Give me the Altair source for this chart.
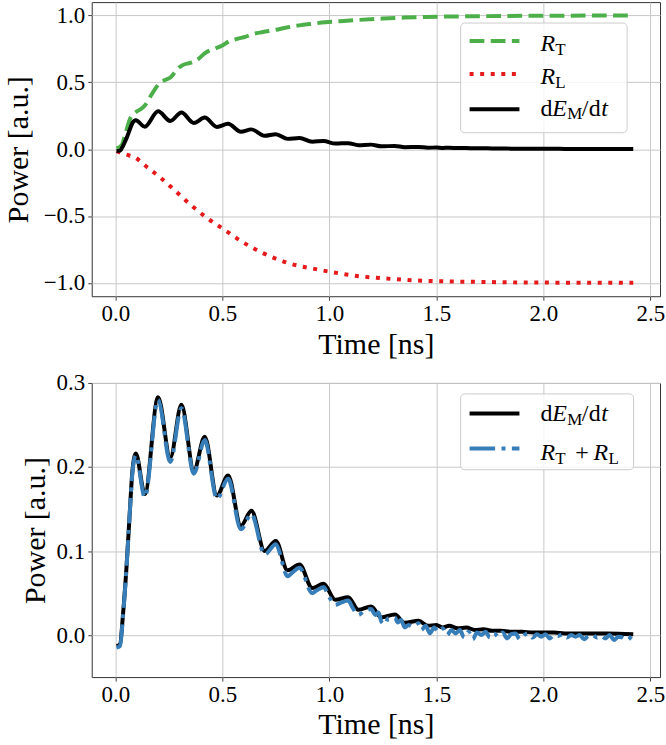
import altair as alt
import pandas as pd

# ---- dE_M/dt (black) ----
t_dE = [0.006, 0.022, 0.036, 0.052, 0.068, 0.080, 0.096, 0.138, 0.200, 0.257, 0.309,
        0.367, 0.418, 0.475, 0.527, 0.587, 0.636, 0.698, 0.750, 0.805, 0.861, 0.920,
        0.973, 1.028, 1.088, 1.136, 1.195, 1.243, 1.306, 1.352, 1.417, 1.460, 1.500,
        1.530, 1.560, 1.600, 1.640, 1.680, 1.720, 1.760, 1.800, 1.850, 1.900, 1.950,
        2.000, 2.050, 2.100, 2.200, 2.300, 2.420]
v_dE = [-0.013, -0.011, 0.024, 0.079, 0.147, 0.195, 0.216, 0.168, 0.283, 0.211, 0.274,
        0.196, 0.236, 0.166, 0.190, 0.130, 0.148, 0.100, 0.112, 0.077, 0.084, 0.056,
        0.061, 0.042, 0.045, 0.030, 0.034, 0.021, 0.0245, 0.0146, 0.017, 0.011, 0.012,
        0.009, 0.011, 0.008, 0.009, 0.006, 0.007, 0.005, 0.005, 0.004, 0.004, 0.003,
        0.003, 0.003, 0.002, 0.002, 0.002, 0.001]

# ---- R_T (green) ----
t_RT = [0.006, 0.030, 0.050, 0.070, 0.095, 0.120, 0.140, 0.170, 0.200, 0.230, 0.260,
        0.290, 0.316, 0.350, 0.380, 0.425, 0.470, 0.500, 0.530, 0.570, 0.610, 0.640,
        0.690, 0.750, 0.800, 0.860, 0.920, 0.980, 1.050, 1.140, 1.250, 1.350, 1.450,
        1.600, 1.800, 2.000, 2.200, 2.420]
v_RT = [0.005, 0.030, 0.130, 0.230, 0.275, 0.300, 0.330, 0.410, 0.480, 0.515, 0.540,
        0.600, 0.630, 0.645, 0.665, 0.725, 0.755, 0.775, 0.805, 0.825, 0.842, 0.860,
        0.876, 0.893, 0.910, 0.926, 0.938, 0.949, 0.957, 0.967, 0.977, 0.984, 0.989,
        0.993, 0.996, 0.998, 0.999, 1.000]

# ---- R_L (red) ----
t_RL = [0.006, 0.050, 0.095, 0.145, 0.214, 0.283, 0.352, 0.430, 0.510, 0.590, 0.689,
        0.808, 0.946, 1.050, 1.144, 1.250, 1.342, 1.440, 1.540, 1.700, 1.837, 2.000,
        2.200, 2.420]
v_RL = [-0.015, -0.040, -0.065, -0.130, -0.217, -0.316, -0.416, -0.516, -0.603, -0.690,
        -0.777, -0.852, -0.900, -0.930, -0.951, -0.966, -0.976, -0.984, -0.989, -0.993,
        -0.996, -0.998, -0.999, -1.000]

# ---- R_T + R_L (blue) ----
t_sum = [0.006, 0.022, 0.036, 0.052, 0.068, 0.080, 0.096, 0.138, 0.200, 0.257, 0.309,
         0.367, 0.418, 0.475, 0.527, 0.587, 0.636, 0.698, 0.750, 0.805, 0.830, 0.861,
         0.920, 0.940, 0.973, 1.000, 1.028, 1.050, 1.088, 1.110, 1.136, 1.160, 1.195,
         1.215, 1.230, 1.243, 1.260, 1.275, 1.306, 1.320, 1.335, 1.352, 1.370, 1.390,
         1.417, 1.430, 1.450, 1.470, 1.490, 1.510, 1.530, 1.550, 1.570, 1.590, 1.610,
         1.630, 1.650, 1.670, 1.690, 1.710, 1.730, 1.750, 1.770, 1.790, 1.810, 1.830,
         1.850, 1.870, 1.890, 1.910, 1.930, 1.950, 1.970, 1.990, 2.010, 2.030, 2.050,
         2.070, 2.090, 2.110, 2.130, 2.150, 2.170, 2.190, 2.210, 2.230, 2.250, 2.270,
         2.290, 2.310, 2.330, 2.350, 2.370, 2.390, 2.410, 2.420]
v_sum = [-0.015, -0.013, 0.022, 0.078, 0.146, 0.193, 0.214, 0.164, 0.280, 0.206, 0.270,
         0.192, 0.232, 0.162, 0.186, 0.126, 0.144, 0.096, 0.108, 0.070, 0.075, 0.080,
         0.050, 0.053, 0.057, 0.045, 0.036, 0.038, 0.041, 0.032, 0.024, 0.028, 0.031,
         0.024, 0.027, 0.016, 0.013, 0.020, 0.021, 0.015, 0.018, 0.009, 0.012, 0.010,
         0.014, 0.006, 0.011, 0.002, 0.009, 0.004, 0.008, 0.000, 0.006, 0.002, 0.006,
         -0.003, 0.004, -0.005, 0.003, 0.000, 0.004, -0.003, 0.002, -0.002, 0.003, -0.004,
         0.001, 0.002, -0.005, 0.000, 0.002, -0.003, 0.001, -0.002, 0.001, -0.004, 0.000,
         -0.001, 0.001, -0.003, 0.000, -0.002, 0.000, -0.005, -0.001, 0.000, -0.003, -0.001,
         -0.004, 0.000, -0.006, -0.002, -0.003, -0.006, -0.002, 0.001]

x_ticks = [0.0, 0.5, 1.0, 1.5, 2.0, 2.5]
top_ticks = [-1.0, -0.5, 0.0, 0.5, 1.0]
bottom_ticks = [0.0, 0.1, 0.2, 0.3]

FONT = "Liberation Serif"
W, H = 570, 295
LW = 4
GREEN, RED, BLUE = "#4daf4a", "#e41a1c", "#377eb8"
DASHED = [14.8, 6.4]
DOTTED = [4, 6.6]
DASHDOT = [25.6, 6.4, 4, 6.4]

x_scale = alt.Scale(domain=[-0.11, 2.545], nice=False, zero=False)
x_axis = alt.Axis(values=x_ticks, format=".1f", title="Time [ns]", titleY=57,
                  titleBaseline="alphabetic", labelBaseline="alphabetic",
                  labelPadding=20)

one = pd.DataFrame({"k": [0]})


def y_axis(ticks, title_x):
    return alt.Axis(values=ticks, format=".1f", title="Power [a.u.]",
                    titleX=title_x, titleY=H / 2, titleAngle=270,
                    titleAlign="center", titleBaseline="alphabetic",
                    labelPadding=3)


def curve(t, v, color, ys, ya, dash=None):
    props = dict(color=color, strokeWidth=LW, interpolate="monotone",
                 strokeCap="butt", strokeJoin="round")
    if dash:
        props["strokeDash"] = dash
    df = pd.DataFrame({"t": t, "v": v})
    return alt.Chart(df).mark_line(**props).encode(
        x=alt.X("t:Q", scale=x_scale, axis=x_axis),
        y=alt.Y("v:Q", scale=ys, axis=ya),
    )


def box(x1, x2, y1, y2):
    return alt.Chart(one).mark_rect(
        fill="white", fillOpacity=0.8, stroke="#cccccc", strokeWidth=1,
        cornerRadius=4
    ).encode(x=alt.value(x1), x2=alt.value(x2), y=alt.value(y1), y2=alt.value(y2))


def handle(y, color, dash=None):
    props = dict(color=color, strokeWidth=LW, strokeCap="butt")
    if dash:
        props["strokeDash"] = dash
    return alt.Chart(one).mark_rule(**props).encode(
        x=alt.value(379), x2=alt.value(429), y=alt.value(y))


def piece(text, x, y, size=24, italic=False, align="left"):
    return alt.Chart(one).mark_text(
        align=align, baseline="alphabetic", font=FONT, fontSize=size,
        fontStyle="italic" if italic else "normal", color="black"
    ).encode(x=alt.value(x), y=alt.value(y), text=alt.value(text))


def r_sub(sub, x, y):
    return [piece("R", x, y, italic=True), piece(sub, x + 15, y + 3.5, size=17)]


def dEdt(y):
    return [
        piece("d", 450, y),
        piece("E", 462, y, italic=True),
        piece("M", 477, y + 3.5, size=17),
        piece("/", 491.5, y),
        piece("d", 498.5, y),
        piece("t", 511, y, italic=True),
    ]


# ---- top panel: R_T, R_L and dE_M/dt ----
ys_top = alt.Scale(domain=[-1.1, 1.1], nice=False, zero=False)
ya_top = y_axis(top_ticks, -64.5)
top_layers = [
    curve(t_RT, v_RT, GREEN, ys_top, ya_top, DASHED),
    curve(t_RL, v_RL, RED, ys_top, ya_top, DOTTED),
    curve(t_dE, v_dE, "black", ys_top, ya_top),
    box(370, 537, 21, 131),
    handle(39, GREEN, DASHED),
    handle(72, RED, DOTTED),
    handle(107.5, "black"),
    *r_sub("T", 450, 49.5),
    *r_sub("L", 450, 82.5),
    *dEdt(114),
]
top = alt.layer(*top_layers).properties(width=W, height=H)

# ---- bottom panel: energy balance check ----
ys_bot = alt.Scale(domain=[-0.05, 0.3], nice=False, zero=False)
ya_bot = y_axis(bottom_ticks, -47.5)
bottom_layers = [
    curve(t_dE, v_dE, "black", ys_bot, ya_bot),
    curve(t_sum, v_sum, BLUE, ys_bot, ya_bot, DASHDOT),
    box(370, 543.5, 11, 87),
    handle(30.7, "black"),
    handle(65.7, BLUE, DASHDOT),
    *dEdt(38.3),
    *r_sub("T", 450, 77.3),
    piece("+", 491.7, 77.3, align="center"),
    *r_sub("L", 503.3, 77.3),
]
bottom = alt.layer(*bottom_layers).properties(width=W, height=H)

chart = alt.vconcat(top, bottom, spacing=11).properties(
    padding={"left": 3, "top": 0, "right": 0, "bottom": 0}
).configure_axis(
    labelFont=FONT, titleFont=FONT, labelFontSize=23, titleFontSize=30,
    labelColor="black", titleColor="black", titleFontWeight="normal",
    domain=False, tickColor="#444444", tickWidth=1, tickSize=4,
    grid=True, gridColor="#c8c8c8", gridWidth=1,
).configure_view(stroke="#333333", strokeWidth=1)

chart.save("out.html", embed_options={"renderer": "svg", "actions": False})
